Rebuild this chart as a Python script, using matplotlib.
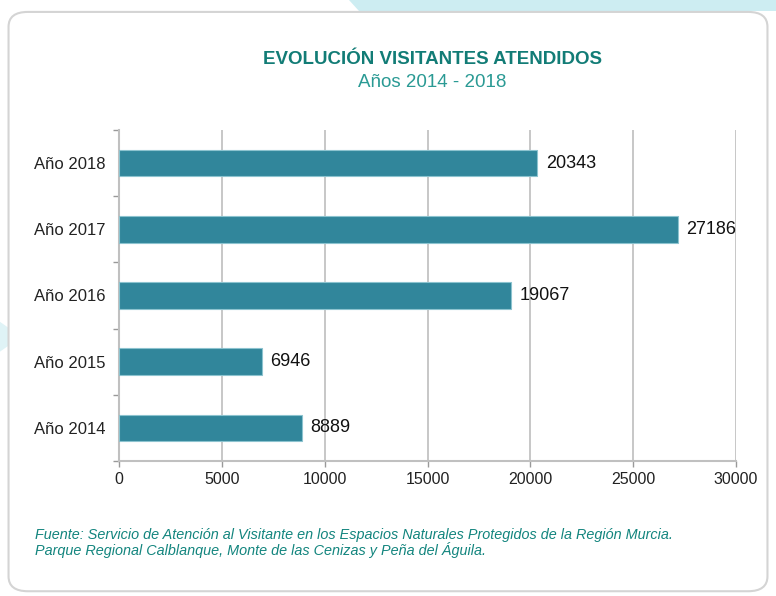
import matplotlib.pyplot as plt
from matplotlib.patches import FancyBboxPatch, Polygon

plt.rcParams['font.family'] = ['Liberation Sans', 'DejaVu Sans']

# datos
anios = ['Año 2014', 'Año 2015', 'Año 2016', 'Año 2017', 'Año 2018']
visitantes = [8889, 6946, 19067, 27186, 20343]
xticks = [0, 5000, 10000, 15000, 20000, 25000, 30000]

fig = plt.figure(figsize=(7.76, 5.96), dpi=100)
fig.patch.set_facecolor('white')

# fondo: forma cian arriba y marco redondeado
fig.patches.append(Polygon([[0.45, 1.0], [1.0, 1.0], [1.0, 0.982], [0.462, 0.982]],
                           closed=True, transform=fig.transFigure,
                           facecolor='#cdedf2', edgecolor='none', zorder=0))
fig.patches.append(Polygon([[0.0, 0.46], [0.011, 0.45], [0.011, 0.42], [0.0, 0.41]],
                           closed=True, transform=fig.transFigure,
                           facecolor='#dff3f6', edgecolor='none', zorder=0))
fig.patches.append(FancyBboxPatch((0.011, 0.008), 0.978, 0.972,
                                  boxstyle='round,pad=0,rounding_size=0.025',
                                  transform=fig.transFigure, facecolor='white',
                                  edgecolor='#d4d4d4', linewidth=1.5, zorder=1))

ax = fig.add_axes([0.1534, 0.2265, 0.7951, 0.5554])
ax.set_zorder(2)
ax.patch.set_alpha(0)

y = range(len(anios))
ax.barh(y, visitantes, height=0.4, color='#31869b', edgecolor='#8cc3cf',
        linewidth=0.8, zorder=3)
for i, v in enumerate(visitantes):
    ax.text(v + 400, i, str(v), va='center', ha='left', fontsize=13,
            color='#111111', zorder=4)

ax.set_xlim(0, 30000)
ax.set_ylim(-0.5, len(anios) - 0.5)
ax.set_xticks(xticks)
ax.set_xticklabels([str(t) for t in xticks], fontsize=11.5, color='#222222')
ax.set_yticks(list(y))
ax.set_yticklabels(anios, fontsize=12, color='#222222')
ax.set_yticks([i - 0.5 for i in range(len(anios) + 1)], minor=True)
ax.tick_params(axis='y', which='major', length=0, pad=10)
ax.tick_params(axis='y', which='minor', length=4, color='#999999', width=1)
ax.tick_params(axis='x', length=4, color='#999999', width=1, pad=4)
ax.grid(axis='x', color='#b8b8b8', linewidth=1.1, zorder=0)
for s in ['top', 'right']:
    ax.spines[s].set_visible(False)
for s in ['left', 'bottom']:
    ax.spines[s].set_color('#c0c0c0')
    ax.spines[s].set_linewidth(1.5)

# titulos
fig.text(0.557, 0.9, 'EVOLUCIÓN VISITANTES ATENDIDOS', ha='center', va='center',
         fontsize=13.5, fontweight='bold', color='#127c76')
fig.text(0.557, 0.862, 'Años 2014 - 2018', ha='center', va='center',
         fontsize=13.5, color='#2a9a94')

# fuente
fig.text(0.045, 0.103, 'Fuente: Servicio de Atención al Visitante en los Espacios Naturales '
         'Protegidos de la Región Murcia.', ha='left', va='center', fontsize=10.4,
         style='italic', color='#13857e')
fig.text(0.045, 0.078, 'Parque Regional Calblanque, Monte de las Cenizas y Peña del Águila.',
         ha='left', va='center', fontsize=10.4, style='italic', color='#13857e')

fig.savefig('out.png', dpi=100)
